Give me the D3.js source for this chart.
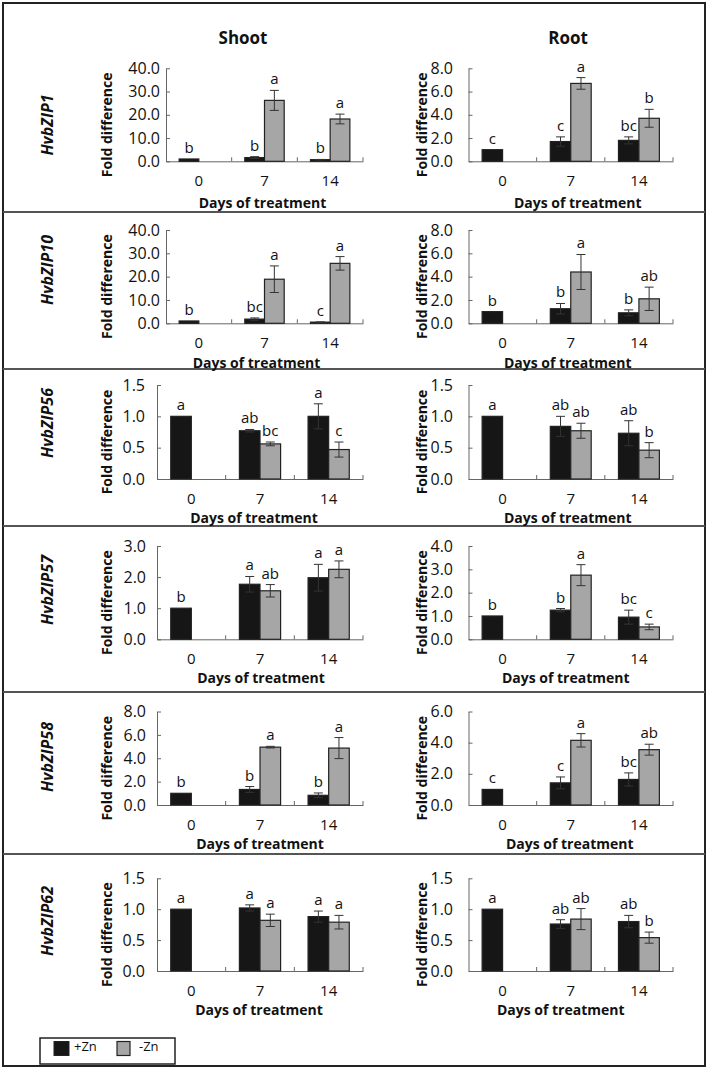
<!DOCTYPE html>
<html><head><meta charset="utf-8">
<script src="https://cdn.jsdelivr.net/npm/d3@7"></script>
<style>
body{margin:0;background:#fff}
svg{display:block}
text{font-family:'Open Sans',sans-serif;fill:#111}
</style>
</head><body>
<svg id="c" width="709" height="1069"></svg>
<script>
// ---------- data ----------
const genes = ["HvbZIP1","HvbZIP10","HvbZIP56","HvbZIP57","HvbZIP58","HvbZIP62"];
const tissues = ["Shoot","Root"];
const days = ["0","7","14"];
const seriesNames = ["+Zn","-Zn"];

const shootPlus    = [[1.0,1.6,0.7],[1.0,1.8,0.5],[1.0,0.77,1.0],[1.0,1.77,1.98],[1.0,1.33,0.83],[1.0,1.02,0.88]];
const shootPlusErr = [[0,0.4,0.1],[0,0.5,0.1],[0,0.02,0.2],[0,0.25,0.43],[0,0.25,0.2],[0,0.05,0.09]];
const shootMinus   = [[null,26.2,18.2],[null,18.9,25.7],[null,0.56,0.47],[null,1.56,2.25],[null,4.95,4.87],[null,0.82,0.79]];
const shootMinusErr= [[null,4.3,2.1],[null,5.7,2.9],[null,0.03,0.12],[null,0.2,0.27],[null,0.07,0.9],[null,0.1,0.11]];
const rootPlus     = [[1.0,1.7,1.8],[1.0,1.25,0.9],[1.0,0.84,0.73],[1.0,1.25,0.95],[1.0,1.42,1.64],[1.0,0.76,0.8]];
const rootPlusErr  = [[0,0.4,0.3],[0,0.45,0.25],[0,0.16,0.2],[0,0.07,0.3],[0,0.38,0.42],[0,0.07,0.1]];
const rootMinus    = [[null,6.7,3.7],[null,4.4,2.1],[null,0.77,0.46],[null,2.75,0.53],[null,4.15,3.55],[null,0.84,0.54]];
const rootMinusErr = [[null,0.5,0.77],[null,1.5,1.0],[null,0.12,0.12],[null,0.45,0.12],[null,0.43,0.35],[null,0.17,0.09]];

const shootPlusLetters  = [["b","b","b"],["b","bc","c"],["a","ab","a"],["b","a","a"],["b","b","b"],["a","a","a"]];
const shootMinusLetters = [[null,"a","a"],[null,"a","a"],[null,"bc","c"],[null,"ab","a"],[null,"a","a"],[null,"a","a"]];
const rootPlusLetters   = [["c","c","bc"],["b","b","b"],["a","ab","ab"],["b","b","bc"],["c","c","bc"],["a","ab","ab"]];
const rootMinusLetters  = [[null,"a","b"],[null,"a","ab"],[null,"ab","b"],[null,"a","c"],[null,"a","ab"],[null,"ab","b"]];

const shootMax  = [40,40,1.5,3,8,1.5];
const shootStep = [10,10,0.5,1,2,0.5];
const rootMax   = [8,8,1.5,4,6,1.5];
const rootStep  = [2,2,0.5,1,2,0.5];

const yLabel = "Fold difference";
const xLabel = "Days of treatment";

// ---------- layout ----------
const rowTop = [68.3, 230, 385, 546, 711.5, 878.3];
const rowBot = [161.3, 323.3, 479, 639.3, 805, 971];
const daysOff = [47, 44.5, 43.5, 43.5, 44, 43.5];
const geneY = [125, 270, 423, 590, 757, 921];
const separators = [212, 369, 526, 692, 854];
const leftX0 = [166,166,157,157,157,157];
const leftX1 = 363;
const leftLabelRight = [160,160,145,146,146,145];
const rightX0 = 468.5, rightX1 = 673, rightLabelRight = 453;
const leftDaysDx = [-2,-8,-6,1,0,-1];
const rightDaysDx = [7,-3,-3,-5,-1,-10];

const svg = d3.select("#c");
const BLACK = "#161616", GRAY = "#a6a6a6", AXIS = "#666";

// outer border
svg.append("rect").attr("x",3).attr("y",3).attr("width",702).attr("height",1063)
  .attr("fill","none").attr("stroke","#222").attr("stroke-width",2);
separators.forEach(y => svg.append("line").attr("x1",3).attr("x2",705).attr("y1",y).attr("y2",y)
  .attr("stroke","#555").attr("stroke-width",2));

// column titles
svg.append("text").attr("x",243).attr("y",44).attr("text-anchor","middle")
  .style("font-size","17px").style("font-weight","700").text(tissues[0]);
svg.append("text").attr("x",568).attr("y",44).attr("text-anchor","middle")
  .style("font-size","17px").style("font-weight","700").text(tissues[1]);

function drawPanel(r, cfg) {
  const g = svg.append("g");
  const y = d3.scaleLinear().domain([0, cfg.max]).range([rowBot[r], rowTop[r]]);
  const x = d3.scaleBand().domain(days).range([cfg.x0, cfg.x1]);
  const xs = d3.scaleBand().domain(seriesNames).range([0, x.bandwidth()]).paddingOuter(0.667);
  const ticks = d3.range(0, cfg.max + cfg.step/2, cfg.step);

  // y axis
  const ya = d3.axisLeft(y).tickValues(ticks).tickFormat(d3.format(".1f"))
    .tickSize(-4).tickSizeOuter(0).tickPadding(cfg.x0 - cfg.labelRight);
  const yg = g.append("g").attr("transform",`translate(${cfg.x0},0)`).call(ya);
  yg.selectAll("path,line").attr("stroke",AXIS);
  yg.selectAll("text").style("font-size","16px").style("font-family","'Open Sans',sans-serif").attr("fill","#111");

  // x axis
  const xa = d3.axisBottom(x).tickSize(0).tickSizeOuter(0).tickPadding(14);
  const xg = g.append("g").attr("transform",`translate(0,${rowBot[r]})`).call(xa);
  xg.select("path").attr("stroke",AXIS);
  xg.selectAll("text").style("font-size","15px").style("font-family","'Open Sans',sans-serif").attr("fill","#111");
  const bounds = days.slice(1).map(d => x(d)).concat([cfg.x1]);
  g.selectAll(null).data(bounds).enter().append("line")
    .attr("x1",d=>d).attr("x2",d=>d).attr("y1",rowBot[r]).attr("y2",rowBot[r]-4).attr("stroke",AXIS);

  // bars
  const recs = [];
  days.forEach((d,i) => {
    if (cfg.plus[i] != null) recs.push({d, s:seriesNames[0], v:cfg.plus[i], e:cfg.plusErr[i], l:cfg.plusL[i], fill:BLACK});
    if (cfg.minus[i] != null) recs.push({d, s:seriesNames[1], v:cfg.minus[i], e:cfg.minusErr[i], l:cfg.minusL[i], fill:GRAY});
  });
  g.selectAll("rect.bar").data(recs).enter().append("rect").attr("class","bar")
    .attr("x", d => x(d.d) + xs(d.s)).attr("width", xs.bandwidth())
    .attr("y", d => y(d.v)).attr("height", d => y(0) - y(d.v))
    .attr("fill", d => d.fill).attr("stroke","#222").attr("stroke-width",1.2);

  // error bars
  const eb = recs.filter(d => d.e > 0);
  const cx = d => x(d.d) + xs(d.s) + xs.bandwidth()/2;
  g.selectAll("line.ev").data(eb).enter().append("line")
    .attr("x1",cx).attr("x2",cx).attr("y1",d=>y(d.v+d.e)).attr("y2",d=>y(Math.max(0,d.v-d.e)))
    .attr("stroke","#333").attr("stroke-width",1);
  g.selectAll("line.et").data(eb).enter().append("line")
    .attr("x1",d=>cx(d)-4.5).attr("x2",d=>cx(d)+4.5).attr("y1",d=>y(d.v+d.e)).attr("y2",d=>y(d.v+d.e))
    .attr("stroke","#333").attr("stroke-width",1);
  g.selectAll("line.eb").data(eb).enter().append("line")
    .attr("x1",d=>cx(d)-4.5).attr("x2",d=>cx(d)+4.5).attr("y1",d=>y(Math.max(0,d.v-d.e))).attr("y2",d=>y(Math.max(0,d.v-d.e)))
    .attr("stroke","#333").attr("stroke-width",1);

  // letters
  g.selectAll("text.lt").data(recs).enter().append("text")
    .attr("x",cx).attr("y",d=>y(d.v+d.e) - 6).attr("text-anchor","middle")
    .style("font-size","15px").text(d=>d.l);

  // axis titles
  const fy = (rowTop[r]+rowBot[r])/2 + 10;
  g.append("text").attr("transform",`translate(${cfg.foldX},${fy}) rotate(-90)`)
    .attr("text-anchor","middle").attr("dy","0.35em")
    .style("font-size","14px").style("font-weight","700").text(yLabel);
  g.append("text").attr("x",(cfg.x0+cfg.x1)/2 + cfg.daysDx).attr("y",rowBot[r]+daysOff[r])
    .attr("text-anchor","middle").style("font-size","14px").style("font-weight","700").text(xLabel);
}

genes.forEach((gene, r) => {
  drawPanel(r, {x0:leftX0[r], x1:leftX1, labelRight:leftLabelRight[r], max:shootMax[r], step:shootStep[r],
    plus:shootPlus[r], plusErr:shootPlusErr[r], minus:shootMinus[r], minusErr:shootMinusErr[r],
    plusL:shootPlusLetters[r], minusL:shootMinusLetters[r], foldX:107, daysDx:leftDaysDx[r]});
  drawPanel(r, {x0:rightX0, x1:rightX1, labelRight:rightLabelRight, max:rootMax[r], step:rootStep[r],
    plus:rootPlus[r], plusErr:rootPlusErr[r], minus:rootMinus[r], minusErr:rootMinusErr[r],
    plusL:rootPlusLetters[r], minusL:rootMinusLetters[r], foldX:421.7, daysDx:rightDaysDx[r]});
  svg.append("text").attr("transform",`translate(47,${geneY[r]}) rotate(-90)`)
    .attr("text-anchor","middle").attr("dy","0.35em")
    .style("font-size","16px").style("font-weight","700").style("font-style","italic").text(gene);
});

// legend
const lg = svg.append("g");
lg.append("rect").attr("x",40).attr("y",1038).attr("width",135).attr("height",26)
  .attr("fill","#fff").attr("stroke","#222").attr("stroke-width",1.5);
lg.append("rect").attr("x",54).attr("y",1041.5).attr("width",15).attr("height",14).attr("fill",BLACK).attr("stroke","#222");
lg.append("text").attr("x",74).attr("y",1051).style("font-size","13px").text(seriesNames[0]);
lg.append("rect").attr("x",117).attr("y",1041.5).attr("width",13).attr("height",14).attr("fill",GRAY).attr("stroke","#222").attr("stroke-width",1.2);
lg.append("text").attr("x",139).attr("y",1051).style("font-size","13px").text(seriesNames[1]);
</script>
</body></html>
